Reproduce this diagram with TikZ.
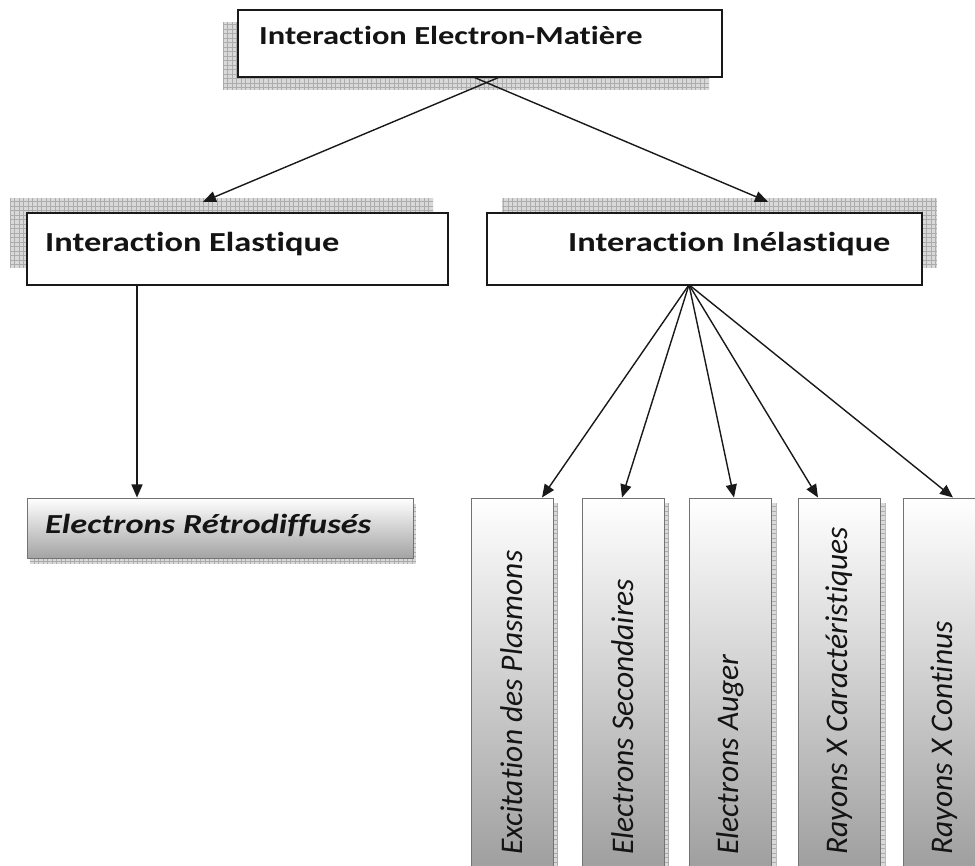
\documentclass[tikz,border=0pt]{standalone}
\usepackage{fontspec}
\setmainfont{Carlito}[Ligatures=CommonOff]
\newfontfamily\hdfont{Carlito}[FakeStretch=1.25, Ligatures=CommonOff]
\usetikzlibrary{arrows.meta,calc}
\begin{document}
\begin{tikzpicture}[x=1pt,y=1pt,
  gridshadow/.style={rectangle, inner sep=0, fill=gray!30, draw=none,
    path picture={\draw[gray!65, line width=0.5pt, step=4.5pt] (path picture bounding box.south west) grid (path picture bounding box.north east);}},
  headbox/.style={rectangle, inner sep=0, draw=black!90, line width=1.5pt, fill=white},
  leafbox/.style={rectangle, inner sep=0, draw=black!55, line width=1pt, top color=white, bottom color=black!42},
  headtext/.style={inner sep=0, anchor=base west, text=black!92, font=\hdfont\bfseries\fontsize{27.5}{30}\selectfont},
  leaftext/.style={inner sep=0, anchor=west, rotate=90, text=black!92, font=\itshape\fontsize{31.5}{34}\selectfont},
  conn/.style={draw=black!90, line width=1.4pt, -{Triangle[length=13pt,width=11pt]}},
]
\clip (0,0) rectangle (975,-866);
\fill[white] (0,0) rectangle (975,-866);

% top box
\node[gridshadow, minimum width=486, minimum height=68] (topsh) at (466,-56) {};
\node[headbox, minimum width=484, minimum height=67] (top) at (480,-43.5) {};
\node[headtext, font=\hdfont\bfseries\fontsize{26}{30}\selectfont] (toplbl) at (259,-45) {Interaction Electron-Matière};

% elastic
\node[gridshadow, minimum width=423, minimum height=70] (elsh) at (221.5,-233) {};
\node[headbox, minimum width=421, minimum height=72] (el) at (237.5,-249) {};
\node[headtext] (ellbl) at (45,-252) {Interaction Elastique};

% inelastic
\node[gridshadow, minimum width=435, minimum height=70] (insh) at (719.5,-233) {};
\node[headbox, minimum width=435, minimum height=72] (inel) at (704.5,-249) {};
\node[headtext] (inlbl) at (568,-252) {Interaction Inélastique};

% retro
\node[gridshadow, minimum width=386, minimum height=60] (resh) at (223,-534) {};
\node[leafbox, minimum width=386, minimum height=60, bottom color=black!36] (retro) at (220,-528) {};
\node[headtext, font=\hdfont\bfseries\itshape\fontsize{27.5}{30}\selectfont] (relbl) at (45,-533) {Electrons Rétrodiffusés};

% vertical boxes
\foreach \n/\cx/\txt in {v1/512/Excitation des Plasmons, v2/623/Electrons Secondaires, v3/730.5/Electrons Auger, v4/839.5/Rayons X Caractéristiques, v5/944/Rayons X Continus}{
  \node[gridshadow, minimum width=82, minimum height=412] (\n sh) at (\cx+5,-709) {};
  \node[leafbox, minimum width=82, minimum height=412] (\n) at (\cx,-704) {};
  \node[leaftext] (\n lbl) at (\cx,-855) {\txt};
}

% connectors
\coordinate (tl) at ($(top.south)+(18,0)$);
\coordinate (tr) at ($(top.south)+(-5,0)$);
\coordinate (elin) at ($(elsh.north)+(-18.5,-4)$);
\coordinate (inin) at ($(insh.north)+(48.5,-4)$);
\draw[conn] (tl) -- (elin);
\draw[conn] (tr) -- (inin);

\coordinate (elbot) at ($(el.south)+(-100.5,0)$);
\draw[conn] (elbot) -- (elbot |- retro.north);

\coordinate (fan) at ($(inel.south)+(-15.5,1)$);
\draw[conn] (fan) -- ($(v1.north)+(30,0)$);
\draw[conn] (fan) -- ($(v2.north)+(-1,0)$);
\draw[conn] (fan) -- ($(v3.north)+(3.5,0)$);
\draw[conn] (fan) -- ($(v4.north)+(-21.5,0)$);
\draw[conn] (fan) -- ($(v5.north)+(9,0)$);
\end{tikzpicture}
\end{document}
